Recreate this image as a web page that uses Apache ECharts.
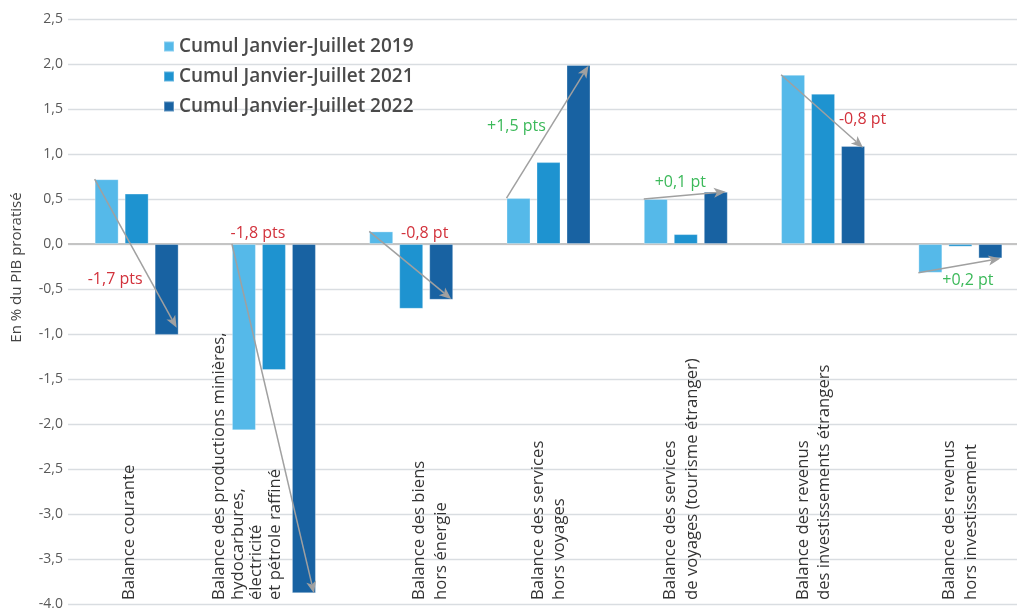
<!DOCTYPE html>
<html>
<head>
<meta charset="utf-8">
<script src="https://cdn.jsdelivr.net/npm/echarts@6/dist/echarts.min.js"></script>
<style>html,body{margin:0;padding:0;background:#fff}#c{width:1017px;height:608px}</style>
</head>
<body>
<div id="c"></div>
<script>
// ---- DATA ----
const categories = [
  "Balance courante",
  "Balance des productions minières,\nhydocarbures,\nélectricité\net pétrole raffiné",
  "Balance des biens\nhors énergie",
  "Balance des services\nhors voyages",
  "Balance des services\nde voyages (tourisme étranger)",
  "Balance des revenus\ndes investissements étrangers",
  "Balance des revenus\nhors investissement"
];
const seriesNames = ["Cumul Janvier-Juillet 2019", "Cumul Janvier-Juillet 2021", "Cumul Janvier-Juillet 2022"];
const values2019 = [0.72, -2.07, 0.14, 0.51, 0.50, 1.88, -0.32];
const values2021 = [0.56, -1.40, -0.72, 0.91, 0.11, 1.67, -0.03];
const values2022 = [-1.01, -3.88, -0.62, 1.99, 0.58, 1.09, -0.16];
// change arrows: from (2019 side) to (2022 side), values as drawn
const arrowStart = [0.72, 0.0, 0.14, 0.51, 0.50, 1.88, -0.32];
const arrowEnd = [-0.93, -3.88, -0.61, 1.98, 0.58, 1.07, -0.16];
const changeLabels = ["-1,7 pts", "-1,8 pts", "-0,8 pt", "+1,5 pts", "+0,1 pt", "-0,8 pt", "+0,2 pt"];
const yTicks = { min: -4.0, max: 2.5, interval: 0.5 };

// ---- STYLE / LAYOUT ----
const colors = ["#55b9e9", "#1e93d0", "#1862a2"];
const labelOffsets = [[-20.5, 25.5], [-15, -185.5], [14.5, -32], [-31, -6], [-4.5, -12.5], [40.5, 8.5], [8.5, 14.5]];
// spacer heights (px) before / after the label block, to nudge each rotated label sideways
const catSpacerBefore = [0, 0, 38, 0, 0, 0, 0];
const catSpacerAfter = [14, 53, 0, 0, 9, 19, 0];
const catLabelLineHeight = [21.5, 18.5, 21.5, 21.5, 21.5, 20.5, 22.5];
const barW = 24, barGapPx = 6;
const fontFam = "'Open Sans', 'DejaVu Sans', sans-serif";
const catFont = { fontSize: 16.7, color: '#333333', fontFamily: fontFam };

const arrowData = categories.map((c, i) => [i, arrowStart[i], arrowEnd[i]]);

const rich = {};
categories.forEach((c, i) => {
  rich['t' + i] = Object.assign({ lineHeight: catLabelLineHeight[i] }, catFont);
  rich['b' + i] = { fontSize: 1, lineHeight: Math.max(catSpacerBefore[i], 1) };
  rich['a' + i] = { fontSize: 1, lineHeight: Math.max(catSpacerAfter[i], 1) };
});
function catFormatter(value, idx) {
  let lines = value.split('\n').map(l => '{t' + idx + '|' + l + '}');
  if (catSpacerBefore[idx] > 0) lines.unshift('{b' + idx + '| }');
  if (catSpacerAfter[idx] > 0) lines.push('{a' + idx + '| }');
  return lines.join('\n');
}

const chart = echarts.init(document.getElementById('c'));
const barSeries = [values2019, values2021, values2022].map((vals, k) => ({
  name: seriesNames[k],
  type: 'bar',
  data: vals,
  barWidth: barW,
  barGap: (barGapPx / barW * 100) + '%',
  itemStyle: { color: colors[k], borderColor: 'rgba(255,255,255,0.3)', borderWidth: 1 },
  emphasis: { disabled: true },
  z: 2
}));
barSeries[0].markLine = {
  silent: true, symbol: 'none', label: { show: false },
  lineStyle: { color: '#c4c4c4', width: 2, type: 'solid' },
  data: [{ yAxis: 0 }], z: 1
};

const half = (3 * barW + 2 * barGapPx) / 2;

chart.setOption({
  animation: false,
  textStyle: { fontFamily: fontFam },
  grid: { left: 68, right: -12, top: 19, bottom: 4, outerBoundsMode: 'none', containLabel: false },
  legend: {
    data: seriesNames,
    orient: 'vertical', left: 163, top: 37, padding: 0,
    itemWidth: 10, itemHeight: 10, itemGap: 11,
    icon: 'rect',
    textStyle: { fontSize: 19, color: '#4a4a4a', fontWeight: 600, fontFamily: fontFam }
  },
  xAxis: {
    type: 'category',
    data: categories,
    axisLine: { show: false, onZero: false },
    axisTick: { show: false },
    axisLabel: Object.assign({
      inside: true, rotate: 90, margin: 4, interval: 0,
      formatter: catFormatter, rich: rich
    }, catFont),
    z: 5
  },
  yAxis: {
    type: 'value',
    min: yTicks.min, max: yTicks.max, interval: yTicks.interval,
    name: 'En % du PIB proratisé',
    nameLocation: 'middle', nameGap: 44, nameRotate: 90,
    nameTextStyle: { fontSize: 15, color: '#444', fontFamily: fontFam, padding: [0, 0, 0, 88] },
    axisLine: { show: false }, axisTick: { show: false },
    axisLabel: {
      fontSize: 14, color: '#595959', margin: 5,
      formatter: v => v.toFixed(1).replace('.', ',')
    },
    splitLine: { lineStyle: { color: '#d9dde1', width: 1.3 } }
  },
  series: barSeries.concat([{
    type: 'custom',
    name: 'arrows',
    data: arrowData,
    encode: { x: 0, y: [1, 2] },
    silent: true,
    z: 10,
    renderItem: function (params, api) {
      const i = api.value(0);
      const cx = api.coord([i, 0])[0];
      const y1 = api.coord([i, api.value(1)])[1];
      const y2 = api.coord([i, api.value(2)])[1];
      const x1 = cx - half, x2 = cx + half - 2;
      const dx = x2 - x1, dy = y2 - y1, len = Math.sqrt(dx * dx + dy * dy);
      const ux = dx / len, uy = dy / len;
      const hl = 12, hw = 5, notch = 3;
      const bx = x2 - ux * hl, by = y2 - uy * hl;
      const nx = bx + ux * notch, ny = by + uy * notch;
      const off = labelOffsets[params.dataIndex];
      const txt = changeLabels[params.dataIndex];
      const col = txt.charAt(0) === '+' ? '#3cb95a' : '#d2323c';
      return {
        type: 'group',
        children: [
          { type: 'line', shape: { x1: x1, y1: y1, x2: nx, y2: ny },
            style: { stroke: '#a0a0a0', lineWidth: 1.5 } },
          { type: 'polygon', shape: { points: [[x2, y2], [bx - uy * hw, by + ux * hw], [nx, ny], [bx + uy * hw, by - ux * hw]] },
            style: { fill: '#a0a0a0' } },
          { type: 'text', x: (x1 + x2) / 2 + off[0], y: (y1 + y2) / 2 + off[1],
            style: { text: txt, fill: col, fontSize: 16, fontFamily: fontFam, align: 'center', verticalAlign: 'middle' } }
        ]
      };
    }
  }])
});
</script>
</body>
</html>
